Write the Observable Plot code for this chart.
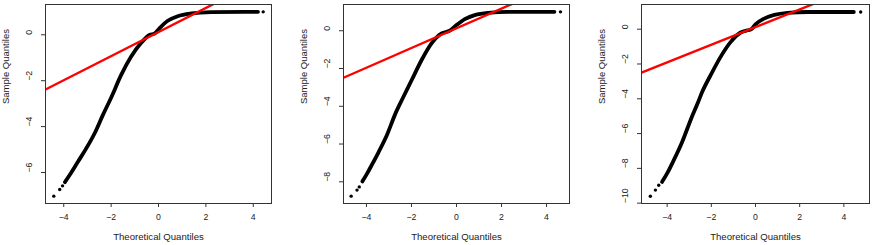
<!DOCTYPE html>
<html><head><meta charset="utf-8">
<script src="https://cdn.jsdelivr.net/npm/d3@7"></script>
<script src="https://cdn.jsdelivr.net/npm/@observablehq/plot@0.6"></script>
<style>
body{margin:0;background:#fff}
#wrap{position:relative;width:872px;height:245px;overflow:hidden}
.p{position:absolute;top:0}
</style>
</head><body><div id="wrap"></div>
<script>
// ---- data ----
const xTicks = [-4, -2, 0, 2, 4];
const yTicks1 = [0, -2, -4, -6];
const yTicks2 = [0, -2, -4, -6, -8];
const yTicks3 = [0, -2, -4, -6, -8, -10];

const xDomain1 = [-4.77, 4.77], yDomain1 = [-7.35, 1.32];
const xDomain2 = [-5.02, 5.02], yDomain2 = [-9.15, 1.39];
const xDomain3 = [-5.16, 5.16], yDomain3 = [-10.02, 1.42];

// qqline: [intercept, slope]
const qqline1 = [0.12, 0.525];
const qqline2 = [0.13, 0.522];
const qqline3 = [0.12, 0.508];

// dense band of sample points (theoretical, sample)
const band1 = [[-3.95,-6.42],[-3.75,-6.11],[-3.40,-5.53],[-3.05,-4.95],[-2.70,-4.30],[-2.35,-3.50],[-2.00,-2.74],[-1.58,-1.76],[-1.16,-0.96],[-0.73,-0.35],[-0.38,-0.01],[-0.17,0.05],[0.04,0.28],[0.39,0.61],[0.81,0.81],[1.38,0.93],[2.22,0.99],[3.63,1.0],[4.20,1.0]];
const band2 = [[-4.18,-7.98],[-3.98,-7.58],[-3.75,-7.08],[-3.47,-6.45],[-3.10,-5.55],[-2.70,-4.35],[-2.40,-3.60],[-1.99,-2.61],[-1.55,-1.55],[-1.11,-0.67],[-0.66,-0.14],[-0.30,0.0],[0.0,0.30],[0.37,0.62],[0.81,0.83],[1.40,0.95],[2.29,1.0],[3.6,1.0],[4.35,1.0]];
const band3 = [[-4.23,-8.78],[-4.00,-8.29],[-3.70,-7.53],[-3.32,-6.48],[-2.94,-5.23],[-2.60,-4.20],[-2.41,-3.60],[-2.03,-2.64],[-1.58,-1.59],[-1.12,-0.73],[-0.67,-0.19],[-0.36,-0.06],[-0.21,-0.02],[0.01,0.29],[0.39,0.61],[0.85,0.82],[1.45,0.94],[2.36,0.99],[3.7,0.99],[4.45,0.99]];

// isolated extreme points
const dots1 = [[-4.42,-7.03],[-4.17,-6.74],[-4.05,-6.58],[4.42,1.0]];
const dots2 = [[-4.68,-8.76],[-4.42,-8.44],[-4.32,-8.27],[4.62,1.0]];
const dots3 = [[-4.76,-9.60],[-4.53,-9.25],[-4.38,-8.97],[4.76,0.99]];

const FONT = "'Liberation Sans', Arial, sans-serif";
const fmt = d => (d < 0 ? "\u2212" : "") + Math.abs(d);

function panel({left, width, boxWidth, xDomain, yDomain, yTicks, band, dots, qq}) {
  const [a, b] = qq;
  const qqPts = xDomain.map(x => ({x, y: a + b * x}));
  const plot = Plot.plot({
    width, height: 245,
    marginLeft: 45, marginRight: width - 45 - boxWidth,
    marginTop: 4, marginBottom: 42,
    style: {fontFamily: FONT, background: "transparent", overflow: "visible"},
    x: {domain: xDomain},
    y: {domain: yDomain},
    marks: [
      Plot.line(band, {x: d => d[0], y: d => d[1], stroke: "black", strokeWidth: 3.8, curve: "monotone-x", strokeLinecap: "round", clip: true}),
      Plot.dot(dots, {x: d => d[0], y: d => d[1], r: 1.7, fill: "black", stroke: "none"}),
      Plot.line(qqPts, {x: "x", y: "y", stroke: "#ff0000", strokeWidth: 2.4, clip: true}),
      Plot.axisX(xTicks, {tickSize: 4, tickFormat: () => "", label: null, stroke: "#333"}),
      Plot.axisY(yTicks, {tickSize: 4, tickFormat: () => "", label: null, stroke: "#333"}),
      Plot.text(xTicks, {x: d => d, frameAnchor: "bottom", dy: 16, text: fmt, fontSize: 8.7, fill: "#222"}),
      Plot.text(yTicks, {y: d => d, frameAnchor: "left", dx: -16, rotate: -90, text: fmt, fontSize: 8.7, fill: "#222"}),
      Plot.text(["Theoretical Quantiles"], {frameAnchor: "bottom", dy: 36, text: d => d, fontSize: 9.6, fill: "#222"}),
      Plot.text(["Sample Quantiles"], {frameAnchor: "left", dx: -40, rotate: -90, text: d => d, fontSize: 9.5, fill: "#222"}),
      Plot.frame({stroke: "#333", strokeWidth: 1})
    ]
  });
  plot.classList.add("p");
  plot.style.left = left + "px";
  document.getElementById("wrap").appendChild(plot);
}

panel({left: 0, width: 272, boxWidth: 226, xDomain: xDomain1, yDomain: yDomain1, yTicks: yTicks1, band: band1, dots: dots1, qq: qqline1});
panel({left: 298, width: 272, boxWidth: 226, xDomain: xDomain2, yDomain: yDomain2, yTicks: yTicks2, band: band2, dots: dots2, qq: qqline2});
panel({left: 596, width: 274, boxWidth: 228, xDomain: xDomain3, yDomain: yDomain3, yTicks: yTicks3, band: band3, dots: dots3, qq: qqline3});
</script>
</body></html>
